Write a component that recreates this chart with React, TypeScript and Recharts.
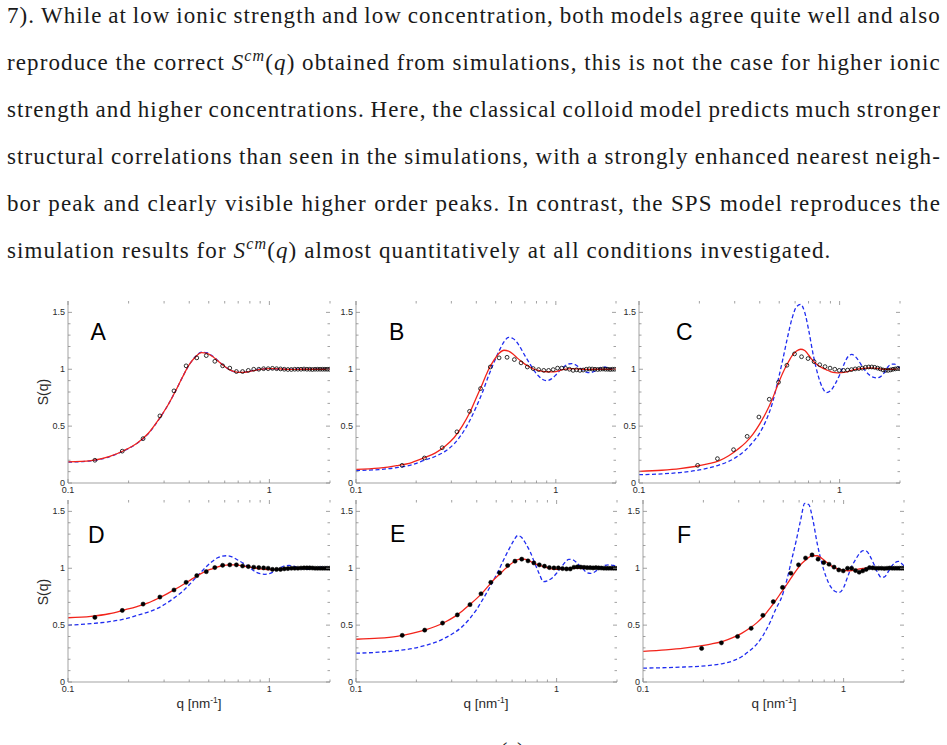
import React from "react";
import { ComposedChart, Line, Scatter, XAxis, YAxis } from "recharts";

// q grid (nm^-1) the model curves were read on
const Q_GRID = [
  0.1, 0.13, 0.16, 0.19, 0.22, 0.25, 0.28, 0.31, 0.34, 0.37,
  0.4, 0.43, 0.46, 0.49, 0.52, 0.55, 0.58, 0.61, 0.64, 0.67,
  0.7, 0.74, 0.78, 0.82, 0.86, 0.9, 0.95, 1.0, 1.05, 1.1,
  1.15, 1.2, 1.25, 1.3, 1.36, 1.42, 1.48, 1.54, 1.6, 1.67,
  1.74, 1.81, 1.88, 1.95, 2.0,
];

// SPS model (red) and classical colloid model (blue dashed), per panel
const A_SPS = [
  0.185, 0.197, 0.232, 0.286, 0.35, 0.435, 0.55, 0.67, 0.8, 0.93,
  1.04, 1.11, 1.147, 1.14, 1.115, 1.08, 1.045, 1.015, 0.993, 0.98,
  0.973, 0.972, 0.977, 0.985, 0.993, 0.999, 1.003, 1.005, 1.005, 1.004,
  1.002, 1.0, 0.999, 0.999, 0.999, 1.0, 1.0, 1.0, 1.0, 1.0,
  1.0, 1.0, 1.0, 1.0, 1.0,
];
const A_COLLOID = [
  0.183, 0.195, 0.23, 0.284, 0.348, 0.432, 0.548, 0.67, 0.8, 0.93,
  1.04, 1.112, 1.15, 1.145, 1.118, 1.082, 1.046, 1.015, 0.992, 0.978,
  0.972, 0.972, 0.978, 0.987, 0.995, 1.0, 1.004, 1.005, 1.004, 1.002,
  1.0, 0.999, 0.999, 1.0, 1.0, 1.0, 1.0, 1.0, 1.0, 1.0,
  1.0, 1.0, 1.0, 1.0, 1.0,
];
const B_SPS = [
  0.12, 0.13, 0.152, 0.18, 0.222, 0.265, 0.325, 0.4, 0.5, 0.615,
  0.75, 0.875, 0.995, 1.08, 1.14, 1.167, 1.16, 1.135, 1.1, 1.07,
  1.045, 1.02, 1.0, 0.99, 0.982, 0.978, 0.977, 0.98, 0.99, 0.998,
  1.003, 1.005, 1.004, 1.002, 1.0, 0.999, 0.999, 1.0, 1.0, 1.0,
  1.0, 1.0, 1.0, 1.0, 1.0,
];
const B_COLLOID = [
  0.11, 0.118, 0.135, 0.16, 0.2, 0.235, 0.28, 0.345, 0.435, 0.545,
  0.67, 0.8, 0.94, 1.06, 1.16, 1.24, 1.28, 1.27, 1.235, 1.18,
  1.12, 1.05, 0.985, 0.94, 0.91, 0.9, 0.915, 0.95, 0.99, 1.025,
  1.045, 1.05, 1.04, 1.02, 0.995, 0.975, 0.97, 0.978, 0.992, 1.01,
  1.02, 1.015, 1.005, 0.998, 0.995,
];
const C_SPS = [
  0.103, 0.112, 0.126, 0.145, 0.168, 0.195, 0.24, 0.295, 0.355, 0.43,
  0.52, 0.62, 0.73, 0.855, 0.965, 1.05, 1.12, 1.16, 1.176, 1.165,
  1.125, 1.07, 1.035, 1.012, 0.995, 0.98, 0.97, 0.968, 0.972, 0.98,
  0.99, 0.998, 1.003, 1.007, 1.01, 1.011, 1.01, 1.007, 1.003, 1.0,
  1.0, 1.0, 1.0, 1.0, 1.0,
];
const C_COLLOID = [
  0.073, 0.08, 0.092, 0.108, 0.13, 0.158, 0.19, 0.235, 0.29, 0.36,
  0.44, 0.55, 0.69, 0.88, 1.08, 1.28, 1.45, 1.55, 1.57, 1.5,
  1.35, 1.12, 0.95, 0.84, 0.795, 0.81, 0.87, 0.95, 1.04, 1.11,
  1.13, 1.11, 1.07, 1.02, 0.975, 0.945, 0.928, 0.924, 0.935, 0.97,
  1.02, 1.045, 1.045, 1.025, 1.01,
];
const D_SPS = [
  0.565, 0.577, 0.6, 0.633, 0.663, 0.695, 0.735, 0.775, 0.815, 0.853,
  0.89, 0.925, 0.955, 0.978, 0.995, 1.01, 1.022, 1.028, 1.03, 1.03,
  1.027, 1.02, 1.013, 1.007, 1.0, 0.995, 0.99, 0.988, 0.988, 0.99,
  0.994, 0.998, 1.0, 1.0, 1.0, 1.0, 1.0, 1.0, 1.0, 1.0,
  1.0, 1.0, 1.0, 1.0, 1.0,
];
const D_COLLOID = [
  0.5, 0.513, 0.53, 0.553, 0.585, 0.615, 0.65, 0.695, 0.745, 0.795,
  0.855, 0.915, 0.97, 1.02, 1.06, 1.09, 1.105, 1.11, 1.105, 1.09,
  1.07, 1.045, 1.015, 0.99, 0.965, 0.952, 0.947, 0.953, 0.97, 0.99,
  1.01, 1.022, 1.024, 1.02, 1.01, 1.0, 0.993, 0.99, 0.992, 0.998,
  1.005, 1.01, 1.01, 1.006, 1.003,
];
const E_SPS = [
  0.376, 0.385, 0.402, 0.428, 0.457, 0.49, 0.53, 0.575, 0.627, 0.682,
  0.735, 0.79, 0.85, 0.905, 0.948, 0.99, 1.025, 1.055, 1.075, 1.082,
  1.078, 1.06, 1.04, 1.025, 1.015, 1.005, 0.995, 0.99, 0.99, 0.992,
  0.996, 1.0, 1.0, 1.0, 1.0, 1.0, 1.0, 1.0, 1.0, 1.0,
  1.0, 1.0, 1.0, 1.0, 1.0,
];
const E_COLLOID = [
  0.253, 0.262, 0.275, 0.293, 0.32, 0.35, 0.39, 0.435, 0.49, 0.56,
  0.64, 0.73, 0.82, 0.91, 1.0, 1.09, 1.17, 1.24, 1.288, 1.27,
  1.22, 1.14, 1.04, 0.95, 0.882, 0.89, 0.915, 0.956, 1.005, 1.05,
  1.078, 1.075, 1.055, 1.025, 0.99, 0.96, 0.955, 0.965, 0.985, 1.01,
  1.025, 1.03, 1.028, 1.022, 1.018,
];
const F_SPS = [
  0.27, 0.283, 0.298, 0.316, 0.335, 0.358, 0.39, 0.428, 0.472, 0.522,
  0.58, 0.65, 0.72, 0.79, 0.855, 0.92, 0.98, 1.03, 1.065, 1.095,
  1.11, 1.11, 1.085, 1.055, 1.025, 1.005, 0.99, 0.982, 0.978, 0.98,
  0.987, 0.994, 0.998, 1.0, 1.0, 1.0, 1.0, 1.0, 1.0, 1.0,
  1.0, 1.0, 1.0, 1.0, 1.0,
];
const F_COLLOID = [
  0.122, 0.126, 0.132, 0.138, 0.148, 0.162, 0.185, 0.222, 0.275, 0.335,
  0.42, 0.525, 0.645, 0.74, 0.89, 1.07, 1.24, 1.42, 1.57, 1.56,
  1.44, 1.21, 1.04, 0.92, 0.84, 0.8, 0.787, 0.83, 0.93, 1.02,
  1.08, 1.13, 1.155, 1.15, 1.1, 1.03, 0.96, 0.92, 0.925, 0.97,
  1.02, 1.05, 1.06, 1.04, 1.02,
];

// simulation points: q values (A/D, B/E, C/F) and S(q)
const Q_SIM_1 = [
  0.136, 0.186, 0.236, 0.286, 0.336, 0.386, 0.436, 0.486, 0.536, 0.586,
  0.636, 0.686, 0.736, 0.786, 0.836, 0.886, 0.936, 0.986, 1.036, 1.086,
  1.136, 1.186, 1.236, 1.286, 1.336, 1.386, 1.436, 1.486, 1.536, 1.586,
  1.636, 1.686, 1.736, 1.786, 1.836, 1.886, 1.936, 1.986,
];
const Q_SIM_2 = [
  0.17, 0.22, 0.27, 0.32, 0.37, 0.42, 0.47, 0.52, 0.57, 0.62,
  0.67, 0.72, 0.77, 0.82, 0.87, 0.92, 0.97, 1.02, 1.07, 1.12,
  1.17, 1.22, 1.27, 1.32, 1.37, 1.42, 1.47, 1.52, 1.57, 1.62,
  1.67, 1.72, 1.77, 1.82, 1.87, 1.92, 1.97,
];
const Q_SIM_3 = [
  0.196, 0.246, 0.296, 0.346, 0.396, 0.446, 0.496, 0.546, 0.596, 0.646,
  0.696, 0.746, 0.796, 0.846, 0.896, 0.946, 0.996, 1.046, 1.096, 1.146,
  1.196, 1.246, 1.296, 1.346, 1.396, 1.446, 1.496, 1.546, 1.596, 1.646,
  1.696, 1.746, 1.796, 1.846, 1.896, 1.946, 1.996,
];
const A_SIM = [
  0.2, 0.28, 0.39, 0.59, 0.81, 1.03, 1.1, 1.12, 1.07, 1.03,
  1.01, 0.98, 0.98, 0.99, 1.0, 1.0, 1.005, 1.005, 1.008, 1.005,
  1.003, 1.0, 0.998, 0.998, 1.0, 1.0, 1.0, 1.002, 1.0, 1.0,
  0.998, 1.0, 1.0, 1.0, 1.0, 1.0, 1.0, 1.0,
];
const B_SIM = [
  0.155, 0.22, 0.31, 0.45, 0.63, 0.83, 1.02, 1.1, 1.105, 1.085,
  1.056, 1.02, 1.006, 0.997, 0.99, 0.99, 0.997, 1.01, 1.01, 1.007,
  1.0, 0.99, 0.995, 0.99, 0.993, 1.0, 1.003, 1.002, 1.0, 0.998,
  1.0, 1.002, 1.0, 1.0, 0.998, 1.0, 1.0,
];
const C_SIM = [
  0.155, 0.214, 0.293, 0.41, 0.58, 0.736, 0.886, 1.035, 1.135, 1.11,
  1.094, 1.067, 1.04, 1.023, 1.01, 1.0, 0.99, 0.99, 0.993, 0.997,
  1.003, 1.006, 1.01, 1.017, 1.02, 1.02, 1.017, 1.01, 1.003, 0.994,
  0.99, 0.99, 0.994, 1.0, 1.003, 1.006, 1.005,
];
const D_SIM = [
  0.568, 0.629, 0.685, 0.747, 0.809, 0.876, 0.935, 0.97, 1.006, 1.026,
  1.03, 1.03, 1.02, 1.015, 1.009, 1.006, 1.003, 1.0, 0.99, 0.99,
  0.99, 0.995, 0.997, 1.0, 1.0, 1.0, 1.002, 1.003, 1.003, 1.003,
  1.002, 1.0, 1.0, 1.0, 1.0, 1.0, 1.0, 1.0,
];
const E_SIM = [
  0.41, 0.456, 0.518, 0.59, 0.68, 0.776, 0.876, 0.96, 1.024, 1.062,
  1.08, 1.065, 1.047, 1.03, 1.018, 1.006, 1.003, 1.003, 0.997, 0.994,
  0.994, 1.009, 1.012, 1.01, 1.008, 1.005, 1.005, 1.003, 1.005, 1.003,
  1.002, 1.0, 1.0, 1.0, 1.0, 1.0, 1.0,
];
const F_SIM = [
  0.295, 0.344, 0.4, 0.472, 0.586, 0.706, 0.831, 0.956, 1.03, 1.09,
  1.117, 1.08, 1.05, 1.035, 1.01, 0.985, 0.977, 1.0, 1.0, 0.98,
  0.965, 0.977, 0.99, 1.005, 1.003, 1.0, 1.0, 1.0, 0.998, 1.0,
  1.002, 1.0, 1.0, 1.0, 1.0, 1.0, 1.0,
];

const X_TICKS = [0.1, 0.2, 0.3, 0.4, 0.5, 0.6, 0.7, 0.8, 0.9, 1, 2];
const X_MAJOR = ["0.1", "1"];
const Y_TICKS = [0, 0.1, 0.2, 0.3, 0.4, 0.5, 0.6, 0.7, 0.8, 0.9, 1, 1.1, 1.2, 1.3, 1.4, 1.5];
const Y_MAJOR = ["0", "0.5", "1", "1.5"];

const TEXT_LINES = [
  "7). While at low ionic strength and low concentration, both models agree quite well and also",
  "reproduce the correct $S obtained from simulations, this is not the case for higher ionic",
  "strength and higher concentrations. Here, the classical colloid model predicts much stronger",
  "structural correlations than seen in the simulations, with a strongly enhanced nearest neigh-",
  "bor peak and clearly visible higher order peaks. In contrast, the SPS model reproduces the",
  "simulation results for $S almost quantitatively at all conditions investigated.",
];

const RED = "#f2231a";
const BLUE = "#1f2cf0";
const FRAME = "#a3a3a3";
const TICK = "#8a8a8a";
const INK = "#2a2a2a";
const SANS = "'Liberation Sans', Arial, sans-serif";
const AXIS_W = 26;
const AXIS_H = 14;
const TOP_M = 2;

// ticks drawn inward on both sides of the frame (bottom/top, left/right)
const XTick = (props: any) => {
  const { x, payload, plotH } = props;
  const yb = TOP_M + plotH;
  const label = String(payload.value);
  const major = X_MAJOR.includes(label);
  const len = major ? 4 : 2.5;
  return (
    <g>
      <line x1={x} x2={x} y1={yb} y2={yb - len} stroke={TICK} strokeWidth={0.8} />
      <line x1={x} x2={x} y1={TOP_M} y2={TOP_M + len} stroke={TICK} strokeWidth={0.8} />
      {major && (
        <text x={x} y={yb + 10} textAnchor="middle" fontSize={9} fill={INK} fontFamily={SANS}>
          {label}
        </text>
      )}
    </g>
  );
};

const YTick = (props: any) => {
  const { y, payload, plotW } = props;
  const xl = AXIS_W;
  const xr = AXIS_W + plotW;
  const label = String(payload.value);
  const major = Y_MAJOR.includes(label);
  const len = major ? 4 : 2.5;
  return (
    <g>
      <line x1={xl} x2={xl + len} y1={y} y2={y} stroke={TICK} strokeWidth={0.8} />
      <line x1={xr} x2={xr - len} y1={y} y2={y} stroke={TICK} strokeWidth={0.8} />
      {major && (
        <text x={xl - 3} y={y + 3} textAnchor="end" fontSize={9} fill={INK} fontFamily={SANS}>
          {label}
        </text>
      )}
    </g>
  );
};

type PanelProps = {
  left: number;
  top: number;
  w: number;
  h: number;
  sps: number[];
  colloid: number[];
  simQ: number[];
  sim: number[];
  filled: boolean;
};

function Panel({ left, top, w, h, sps, colloid, simQ, sim, filled }: PanelProps) {
  const curves = Q_GRID.map((q, i) => ({ q, sps: sps[i], colloid: colloid[i] }));
  const points = simQ.map((q, i) => ({ q, s: sim[i] }));
  return (
    <div style={{ position: "absolute", left: left - AXIS_W, top: top - TOP_M }}>
      <ComposedChart
        width={AXIS_W + w + 2}
        height={TOP_M + h + AXIS_H}
        margin={{ top: TOP_M, right: 2, bottom: 0, left: 0 }}
      >
        <XAxis
          xAxisId="b"
          dataKey="q"
          type="number"
          scale="log"
          domain={[0.1, 2]}
          allowDataOverflow
          ticks={X_TICKS}
          interval={0}
          height={AXIS_H}
          tickSize={0}
          tickMargin={0}
          tickLine={false}
          axisLine={{ stroke: FRAME }}
          tick={(p: any) => <XTick {...p} plotH={h} />}
        />
        <XAxis
          xAxisId="t"
          orientation="top"
          dataKey="q"
          type="number"
          scale="log"
          domain={[0.1, 2]}
          allowDataOverflow
          height={0}
          tick={false}
          tickLine={false}
          axisLine={{ stroke: FRAME }}
        />
        <YAxis
          yAxisId="l"
          type="number"
          domain={[0, 1.6]}
          allowDataOverflow
          ticks={Y_TICKS}
          interval={0}
          width={AXIS_W}
          tickSize={0}
          tickMargin={0}
          tickLine={false}
          axisLine={{ stroke: FRAME }}
          tick={(p: any) => <YTick {...p} plotW={w} />}
        />
        <YAxis
          yAxisId="r"
          orientation="right"
          type="number"
          domain={[0, 1.6]}
          allowDataOverflow
          width={0}
          tick={false}
          tickLine={false}
          axisLine={{ stroke: FRAME }}
        />
        <Line
          xAxisId="b"
          yAxisId="l"
          data={curves}
          dataKey="colloid"
          type="monotone"
          stroke={BLUE}
          strokeWidth={1.3}
          strokeDasharray="4 2.5"
          dot={false}
          isAnimationActive={false}
        />
        <Line
          xAxisId="b"
          yAxisId="l"
          data={curves}
          dataKey="sps"
          type="monotone"
          stroke={RED}
          strokeWidth={1.3}
          dot={false}
          isAnimationActive={false}
        />
        <Scatter
          xAxisId="b"
          yAxisId="l"
          data={points}
          dataKey="s"
          isAnimationActive={false}
          shape={(p: any) => (
            <circle
              cx={p.cx}
              cy={p.cy}
              r={filled ? 2.1 : 1.9}
              fill={filled ? "#000" : "none"}
              stroke="#000"
              strokeWidth={filled ? 0.5 : 0.8}
            />
          )}
        />
      </ComposedChart>
    </div>
  );
}

const SMath = () => (
  <span>
    <i>S</i>
    <span style={{ fontStyle: "italic", fontSize: "0.7em", position: "relative", top: "-0.55em" }}>cm</span>
    (<i>q</i>)
  </span>
);

const renderWord = (word: string, i: number) =>
  word === "$S" ? <SMath key={i} /> : <span key={i}>{word}</span>;

function Paragraph() {
  return (
    <>
      {TEXT_LINES.map((line, i) => {
        const last = i === TEXT_LINES.length - 1;
        const words = line.split(" ");
        return (
          <div
            key={i}
            style={{
              position: "absolute",
              left: 7,
              top: -8 + i * 47,
              width: 934,
              height: 47,
              lineHeight: "47px",
              fontSize: 23,
              letterSpacing: 1.1,
              fontFamily: "'Liberation Serif', 'Times New Roman', serif",
              color: "#1a1a1a",
              whiteSpace: "nowrap",
              display: last ? "block" : "flex",
              justifyContent: "space-between",
            }}
          >
            {last
              ? words.map((wd, k) => (
                  <React.Fragment key={k}>
                    {k > 0 ? " " : ""}
                    {renderWord(wd, k)}
                  </React.Fragment>
                ))
              : words.map(renderWord)}
          </div>
        );
      })}
    </>
  );
}

const PANELS = [
  { id: "A", left: 68, top: 301, w: 262, h: 182, sps: A_SPS, colloid: A_COLLOID, simQ: Q_SIM_1, sim: A_SIM, filled: false },
  { id: "B", left: 356, top: 301, w: 260, h: 182, sps: B_SPS, colloid: B_COLLOID, simQ: Q_SIM_2, sim: B_SIM, filled: false },
  { id: "C", left: 639, top: 301, w: 261, h: 182, sps: C_SPS, colloid: C_COLLOID, simQ: Q_SIM_3, sim: C_SIM, filled: false },
  { id: "D", left: 68, top: 500, w: 262, h: 182, sps: D_SPS, colloid: D_COLLOID, simQ: Q_SIM_1, sim: D_SIM, filled: true },
  { id: "E", left: 356, top: 500, w: 261, h: 182, sps: E_SPS, colloid: E_COLLOID, simQ: Q_SIM_2, sim: E_SIM, filled: true },
  { id: "F", left: 643, top: 500, w: 261, h: 182, sps: F_SPS, colloid: F_COLLOID, simQ: Q_SIM_3, sim: F_SIM, filled: true },
];

const LETTER_POS: Record<string, [number, number]> = {
  A: [90.5, 340],
  B: [389, 340],
  C: [676, 340],
  D: [88, 543],
  E: [390, 542],
  F: [677, 543],
};

export default function App() {
  return (
    <div
      style={{
        position: "absolute",
        left: 0,
        top: 0,
        width: 947,
        height: 745,
        overflow: "hidden",
        background: "#fff",
      }}
    >
      <Paragraph />
      {PANELS.map((p) => (
        <Panel key={p.id} {...p} />
      ))}
      <svg
        width={947}
        height={745}
        style={{ position: "absolute", left: 0, top: 0, pointerEvents: "none" }}
      >
        {PANELS.map((p) => (
          <text
            key={p.id}
            x={LETTER_POS[p.id][0]}
            y={LETTER_POS[p.id][1]}
            fontSize={23}
            fontFamily={SANS}
            fill="#000"
          >
            {p.id}
          </text>
        ))}
        {[392, 592].map((cy) => (
          <text
            key={cy}
            x={43}
            y={cy}
            transform={`rotate(-90 43 ${cy})`}
            textAnchor="middle"
            dominantBaseline="central"
            fontSize={14}
            fontFamily={SANS}
            fill={INK}
          >
            S(q)
          </text>
        ))}
        {[199, 486, 774].map((cx) => (
          <text key={cx} x={cx} y={708} textAnchor="middle" fontSize={13.5} fontFamily={SANS} fill={INK}>
            q [nm
            <tspan dy={-5} fontSize={8.5}>
              -1
            </tspan>
            <tspan dy={5}>]</tspan>
          </text>
        ))}
        <text x={500} y={757} fontSize={22} fontFamily="'Liberation Serif', serif" fill="#1a1a1a">
          (a)
        </text>
      </svg>
    </div>
  );
}
